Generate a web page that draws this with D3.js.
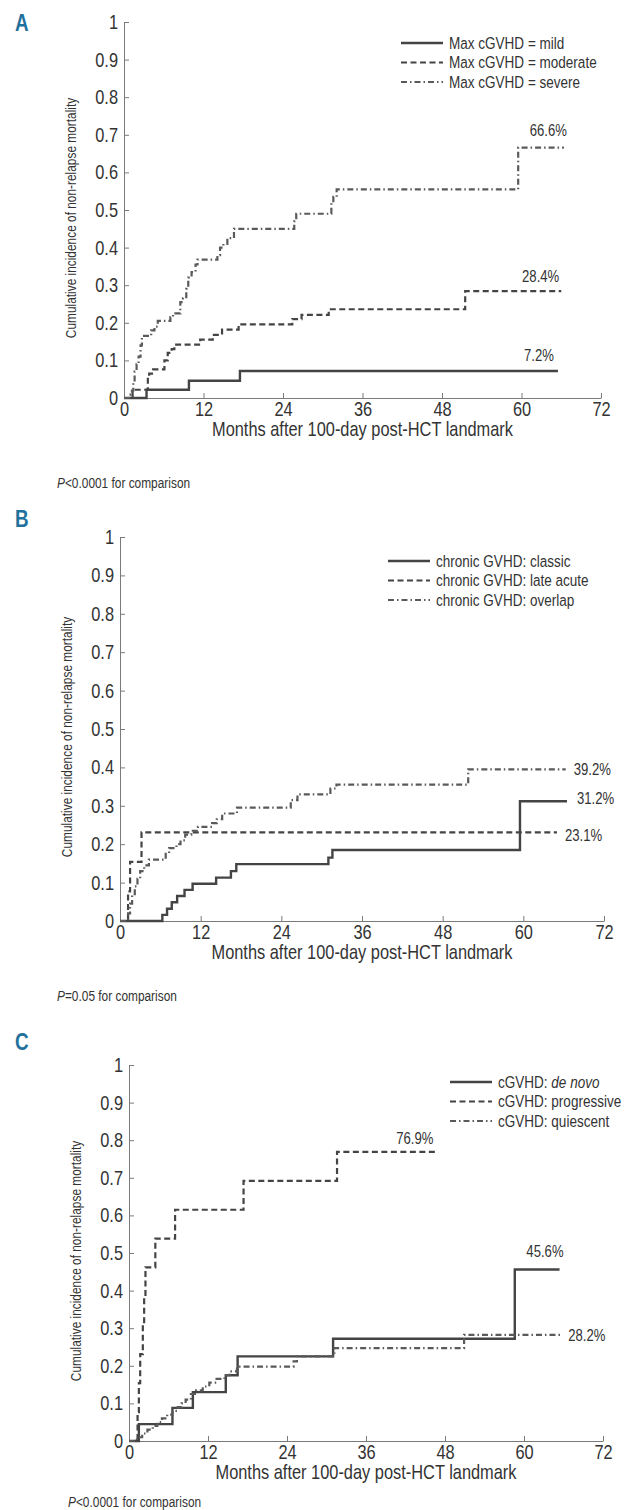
<!DOCTYPE html>
<html lang="en">
<head>
<meta charset="UTF-8">
<title>cGVHD non-relapse mortality</title>
<script src="https://cdn.jsdelivr.net/npm/d3@7"></script>
<style>
  body, html { margin: 0; background: #fff; }
  svg { display: block; font-family: "Liberation Sans", Arial, sans-serif; }
</style>
</head>
<body>
<svg width="629" height="1510"></svg>
<script>
// shared axes
const monthTicks = [0, 12, 24, 36, 48, 60, 72];
const cifTicks = [0, 0.1, 0.2, 0.3, 0.4, 0.5, 0.6, 0.7, 0.8, 0.9, 1];
const xTitle = 'Months after 100-day post-HCT landmark';
const yTitle = 'Cumulative incidence of non-relapse mortality';

// panel A: max cGVHD severity  [month, cumulative incidence]
const namesA = ['Max cGVHD = mild', 'Max cGVHD = moderate', 'Max cGVHD = severe'];
const mildA = [[0,0],[3.4,0.022],[9.8,0.046],[17.5,0.072],[65.5,0.072]];
const moderateA = [[0,0],[1.3,0.022],[3.6,0.055],[3.8,0.065],[4.4,0.076],[6.1,0.1],[6.6,0.12],[7.2,0.13],[7.6,0.142],
  [11.5,0.155],[13.4,0.168],[14.8,0.182],[17.3,0.196],[25.4,0.21],[26.8,0.221],[30.9,0.236],[51.5,0.284],[66,0.284]];
const severeA = [[0,0],[1.0,0.01],[1.2,0.02],[1.4,0.04],[1.6,0.07],[1.9,0.09],[2.2,0.11],[2.5,0.14],[2.7,0.165],[4.1,0.18],
  [4.6,0.19],[5.1,0.205],[7.0,0.215],[7.4,0.225],[8.5,0.255],[8.9,0.265],[9.4,0.29],[9.7,0.32],[10.2,0.335],[10.8,0.355],
  [11.1,0.368],[14.1,0.38],[14.5,0.4],[15.0,0.41],[15.6,0.425],[16.6,0.45],[25.7,0.47],[26.0,0.49],[31.3,0.52],[31.6,0.535],
  [32.1,0.555],[59.5,0.666],[66.4,0.666]];
const endLabelsA = ['7.2%', '28.4%', '66.6%'];

// panel B: cGVHD type
const namesB = ['chronic GVHD: classic', 'chronic GVHD: late acute', 'chronic GVHD: overlap'];
const classicB = [[0,0],[6.3,0.016],[7.0,0.032],[7.7,0.049],[8.5,0.065],[9.6,0.081],[10.8,0.097],[14.3,0.113],[16.5,0.13],
  [17.3,0.148],[31,0.165],[31.6,0.185],[59.5,0.312],[66.5,0.312]];
const lateAcuteB = [[0,0],[1.2,0.077],[1.5,0.154],[3.2,0.231],[65,0.231]];
const overlapB = [[0,0],[1.2,0.02],[1.5,0.045],[1.8,0.07],[2.2,0.09],[2.6,0.11],[3.0,0.13],[3.6,0.145],[4.3,0.16],[6.8,0.175],
  [7.3,0.19],[8.4,0.2],[9.0,0.21],[9.7,0.225],[10.6,0.235],[11.6,0.245],[13.7,0.255],[14.4,0.265],[15.2,0.28],[17.4,0.295],
  [25.4,0.315],[26.4,0.33],[31.3,0.345],[32.2,0.355],[51.8,0.395],[66.3,0.395]];
const endLabelsB = ['31.2%', '23.1%', '39.2%'];

// panel C: onset type
const namesC = ['de novo', 'progressive', 'quiescent'];
const deNovoC = [[0,0],[1.5,0.045],[6.6,0.088],[9.7,0.13],[14.7,0.175],[16.5,0.225],[31.0,0.272],[58.6,0.456],[65.4,0.456]];
const progressiveC = [[0,0],[1.3,0.077],[1.5,0.154],[1.7,0.231],[2.1,0.308],[2.3,0.385],[2.5,0.462],[4.0,0.538],[7.0,0.615],
  [17.4,0.692],[31.6,0.769],[46.7,0.769]];
const quiescentC = [[0,0],[1.2,0.01],[2.0,0.02],[2.8,0.03],[3.6,0.04],[4.3,0.05],[5.0,0.06],[5.8,0.07],[6.6,0.08],[7.4,0.09],
  [8.0,0.1],[8.6,0.11],[9.4,0.125],[10.2,0.135],[11.2,0.145],[12.2,0.155],[13.3,0.165],[14.5,0.175],[15.3,0.185],[16.4,0.198],
  [25.0,0.212],[25.5,0.225],[30.9,0.235],[31.2,0.247],[50.9,0.282],[65.5,0.282]];
const endLabelsC = ['45.6%', '76.9%', '28.2%'];

const pTexts = ['<0.0001', '=0.05', '<0.0001'];

// layout (pixels)
const SX = 0.82; // narrow (condensed) look for Liberation Sans
const dashes = [null, '6,3.5', '6,3,1.5,3'];
const strokes = ['#444', '#444', '#5a5a5a'];
const panels = [
  {letter:'A', ly:31, left:124, right:601, top:22, bottom:398, series:[mildA, moderateA, severeA], names:namesA,
   labels:endLabelsA, lab:[['above',-4,-10],['above',-2,-9],['above',3,-12]], legend:[401,43], pText:pTexts[0], px:57, py:488},
  {letter:'B', ly:527, left:120, right:604, top:537, bottom:921, series:[classicB, lateAcuteB, overlapB], names:namesB,
   labels:endLabelsB, lab:[['right',10,-3],['right',8,3],['right',8,0]], legend:[388,561], pText:pTexts[1], px:57, py:1001},
  {letter:'C', ly:1050, left:129, right:603, top:1065, bottom:1441, series:[deNovoC, progressiveC, quiescentC], names:namesC,
   labels:endLabelsC, lab:[['above',4,-13],['above',-3,-8],['right',8,0]], legend:[450,1082], pText:pTexts[2], px:68, py:1507}
];

const svg = d3.select('svg');

function addText(parent, x, y, size, anchor) {
  return parent.append('text')
    .attr('transform', `translate(${x},${y}) scale(${SX},1)`)
    .attr('font-size', size).attr('text-anchor', anchor || 'start').attr('fill', '#333');
}

panels.forEach((p, pi) => {
  const x = d3.scaleLinear().domain([0, 72]).range([p.left, p.right]);
  const y = d3.scaleLinear().domain([0, 1]).range([p.bottom, p.top]);
  const g = svg.append('g');

  addText(g, 15, p.ly, 23).attr('font-weight', 'bold').attr('fill', '#22719c').text(p.letter);

  const xa = g.append('g').attr('transform', `translate(0,${p.bottom})`)
    .call(d3.axisBottom(x).tickValues(monthTicks).tickSizeInner(-5).tickSizeOuter(0).tickPadding(4));
  const ya = g.append('g').attr('transform', `translate(${p.left},0)`)
    .call(d3.axisLeft(y).tickValues(cifTicks).tickFormat(d3.format('~g')).tickSizeInner(-5).tickSizeOuter(0));
  [xa, ya].forEach(a => {
    a.attr('font-family', null).attr('font-size', 20);
    a.selectAll('path, line').attr('stroke', '#7a7a7a');
    a.selectAll('text').attr('fill', '#333');
  });
  xa.selectAll('text').attr('transform', `scale(${SX},1)`);
  ya.selectAll('text').attr('x', 0).attr('transform', `translate(-6,0) scale(${SX},1)`);

  addText(g, (p.left + p.right) / 2, p.bottom + 38, 20, 'middle').text(xTitle);
  g.append('text').attr('transform', `translate(${p.left - 48},${(p.top + p.bottom) / 2 + 8}) rotate(-90) scale(${SX},1)`)
    .attr('text-anchor', 'middle').attr('font-size', 14.5).attr('fill', '#333').text(yTitle);

  const line = d3.line().x(d => x(d[0])).y(d => y(d[1])).curve(d3.curveStepAfter);
  p.series.forEach((s, i) => {
    g.append('path').datum(s).attr('d', line).attr('fill', 'none')
      .attr('stroke', strokes[i]).attr('stroke-width', i === 0 ? 2.4 : 2.2)
      .attr('stroke-dasharray', dashes[i]);
    const end = s[s.length - 1];
    const [mode, dx, dy] = p.lab[i];
    if (mode === 'above') {
      addText(g, x(end[0]) + dx, y(end[1]) + dy, 16, 'end').text(p.labels[i]);
    } else {
      addText(g, x(end[0]) + dx, y(end[1]) + dy, 16).attr('dy', '0.35em').text(p.labels[i]);
    }
  });

  // legend
  const [lx, ly] = p.legend;
  p.names.forEach((n, i) => {
    const yy = ly + i * 19.5;
    g.append('line').attr('x1', lx).attr('x2', lx + 42).attr('y1', yy).attr('y2', yy)
      .attr('stroke', strokes[i]).attr('stroke-width', i === 0 ? 2.4 : 2.2)
      .attr('stroke-dasharray', dashes[i]);
    const t = addText(g, lx + 48, yy, 16.5).attr('dy', '0.35em');
    if (pi === 2) {
      t.append('tspan').text('cGVHD: ');
      t.append('tspan').text(n).attr('font-style', i === 0 ? 'italic' : null);
    } else {
      t.text(n);
    }
  });

  const pt = addText(g, p.px, p.py, 14.5);
  pt.append('tspan').attr('font-style', 'italic').text('P');
  pt.append('tspan').text(p.pText + ' for comparison');
});
</script>
</body>
</html>
